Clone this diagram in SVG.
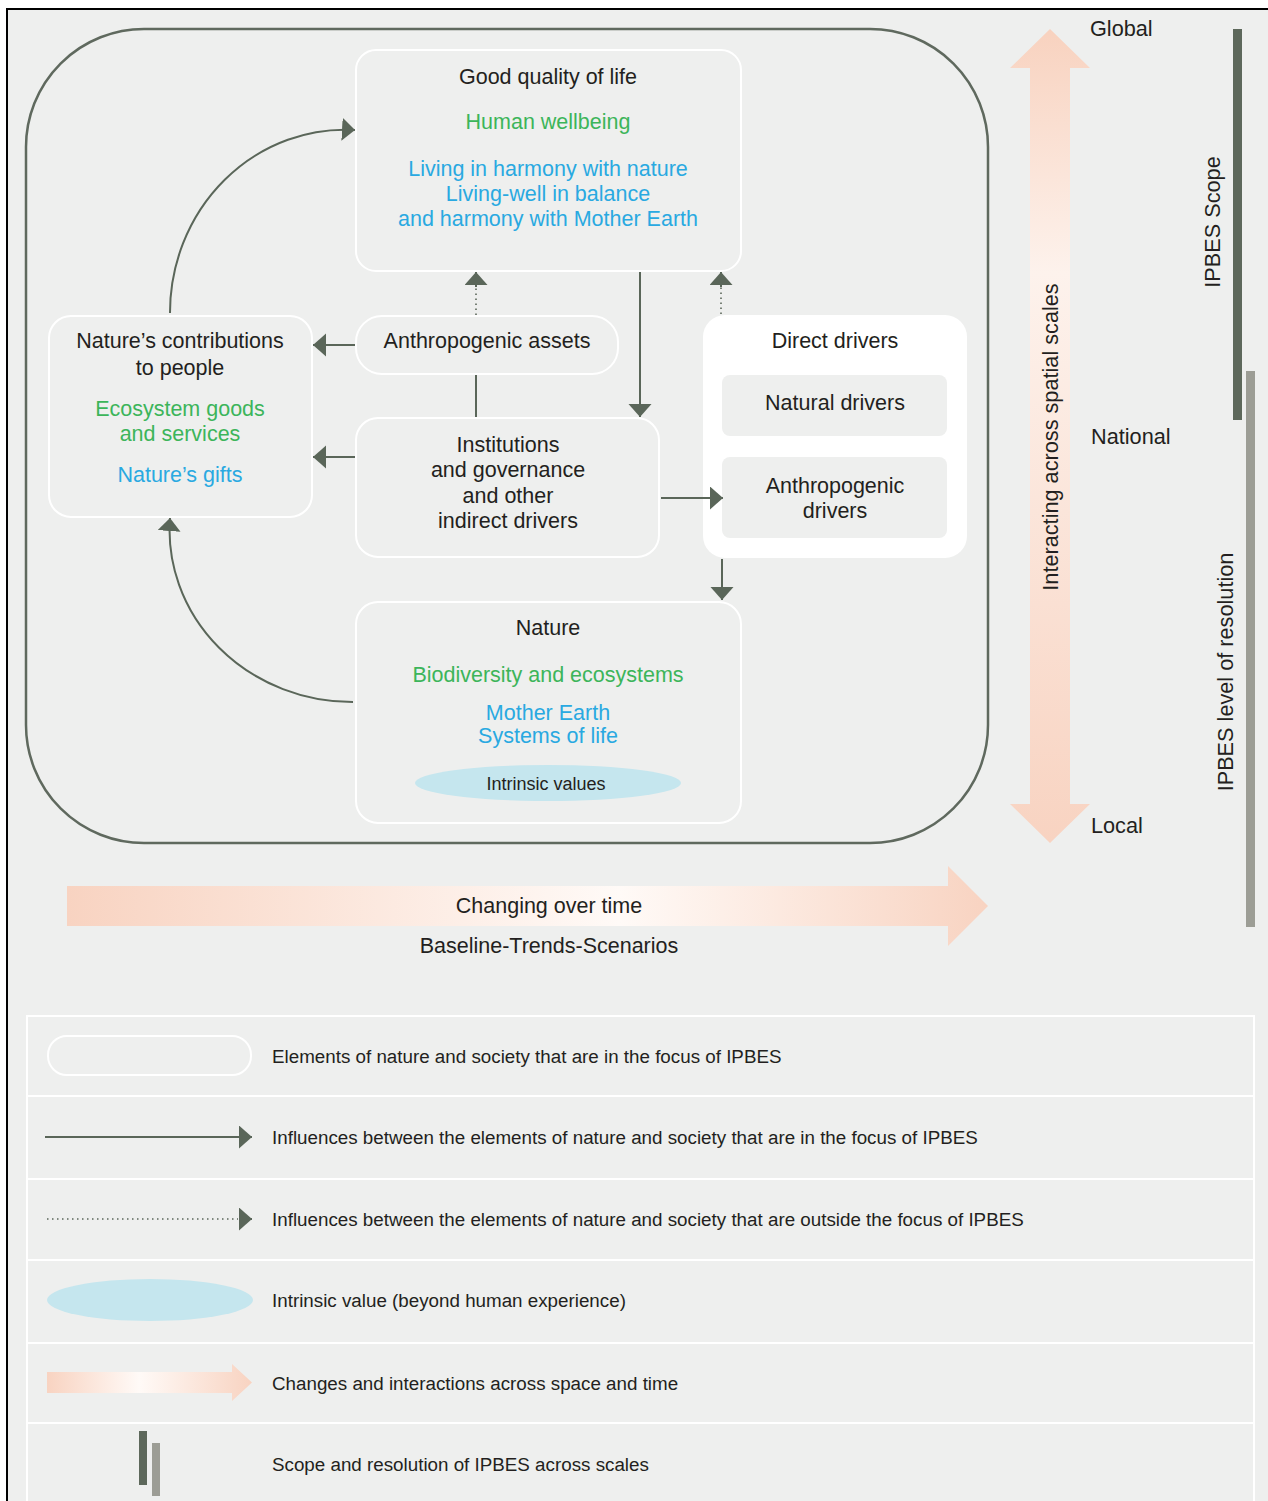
<svg xmlns="http://www.w3.org/2000/svg" width="1268" height="1501" viewBox="0 0 1268 1501">
<defs>
<style>
.t{font-family:"Liberation Sans",Arial,sans-serif;font-size:21.5px;fill:#231f20;text-anchor:middle;dominant-baseline:central}
.g{fill:#3cb55a}
.b{fill:#29a9e1}
.lg{font-family:"Liberation Sans",Arial,sans-serif;font-size:18.8px;fill:#231f20;dominant-baseline:central}
.side{font-family:"Liberation Sans",Arial,sans-serif;font-size:21.7px;fill:#231f20;dominant-baseline:central}
.node{fill:#eeefee;stroke:#ffffff;stroke-width:2}
.con{fill:none;stroke:#5a6659;stroke-width:2}
.dot{fill:none;stroke:#5a6659;stroke-width:1.6;stroke-dasharray:1.5 3.5}
.sep{stroke:#ffffff;stroke-width:2}
</style>
<marker id="ah" markerUnits="userSpaceOnUse" markerWidth="14" markerHeight="24" refX="13" refY="11.5" orient="auto">
<path d="M0,0 L13,11.5 L0,23 z" fill="#5a6659"/>
</marker>
<linearGradient id="gv" x1="0" y1="29" x2="0" y2="843" gradientUnits="userSpaceOnUse">
<stop offset="0" stop-color="#f8d2bf"/>
<stop offset="0.3" stop-color="#fdf2ec"/>
<stop offset="1" stop-color="#f8d3c1"/>
</linearGradient>
<linearGradient id="gh" x1="67" y1="0" x2="988" y2="0" gradientUnits="userSpaceOnUse">
<stop offset="0" stop-color="#f8d3c1"/>
<stop offset="0.6" stop-color="#fffaf7"/>
<stop offset="1" stop-color="#f8d3c1"/>
</linearGradient>
<linearGradient id="gl" x1="47" y1="0" x2="252" y2="0" gradientUnits="userSpaceOnUse">
<stop offset="0" stop-color="#f8d3c1"/>
<stop offset="0.45" stop-color="#fffaf7"/>
<stop offset="1" stop-color="#f8d3c1"/>
</linearGradient>
</defs>

<rect x="0" y="0" width="1268" height="1501" fill="#ffffff"/>
<rect x="7" y="9" width="1275" height="1500" fill="#eeefee" stroke="#000000" stroke-width="2"/>

<g id="frame">
<rect x="26" y="29" width="962" height="814" rx="118" ry="118" fill="none" stroke="#5f695e" stroke-width="2.5"/>
</g>

<g id="scale-arrows">
<path d="M1050,29 L1090,68 L1070,68 L1070,804 L1090,804 L1050,843 L1010,804 L1030,804 L1030,68 L1010,68 z" fill="url(#gv)"/>
<text class="side" transform="translate(1050,437) rotate(-90)" text-anchor="middle">Interacting across spatial scales</text>
<text class="side" x="1090" y="28">Global</text>
<text class="side" x="1091" y="436">National</text>
<text class="side" x="1091" y="825">Local</text>
<path d="M67,886 L948,886 L948,866 L988,906 L948,946 L948,926 L67,926 z" fill="url(#gh)"/>
<text class="t" x="549" y="906">Changing over time</text>
<text class="t" x="549" y="946">Baseline-Trends-Scenarios</text>
</g>

<g id="ipbes-bars">
<rect x="1233" y="29" width="9" height="391" fill="#5d685b"/>
<text class="side" transform="translate(1212,222) rotate(-90)" text-anchor="middle">IPBES Scope</text>
<rect x="1246" y="371" width="9" height="556" fill="#9c9d95"/>
<text class="side" transform="translate(1225,672) rotate(-90)" text-anchor="middle">IPBES level of resolution</text>
</g>

<g id="node-quality">
<rect class="node" x="356" y="50" width="385" height="221" rx="20"/>
<text class="t" x="548" y="77">Good quality of life</text>
<text class="t g" x="548" y="122">Human wellbeing</text>
<text class="t b" x="548" y="169">Living in harmony with nature</text>
<text class="t b" x="548" y="194">Living-well in balance</text>
<text class="t b" x="548" y="219">and harmony with Mother Earth</text>
</g>

<g id="node-assets">
<rect class="node" x="356" y="316" width="262" height="58" rx="26"/>
<text class="t" x="487" y="341">Anthropogenic assets</text>
</g>

<g id="node-institutions">
<rect class="node" x="356" y="418" width="303" height="139" rx="22"/>
<text class="t" x="508" y="445">Institutions</text>
<text class="t" x="508" y="470">and governance</text>
<text class="t" x="508" y="496">and other</text>
<text class="t" x="508" y="521">indirect drivers</text>
</g>

<g id="node-ncp">
<rect class="node" x="49" y="316" width="263" height="201" rx="22"/>
<text class="t" x="180" y="341">Nature’s contributions</text>
<text class="t" x="180" y="368">to people</text>
<text class="t g" x="180" y="409">Ecosystem goods</text>
<text class="t g" x="180" y="434">and services</text>
<text class="t b" x="180" y="475">Nature’s gifts</text>
</g>

<g id="node-direct-drivers">
<rect x="703" y="315" width="264" height="243" rx="22" fill="#ffffff"/>
<text class="t" x="835" y="341">Direct drivers</text>
<rect x="722" y="375" width="225" height="61" rx="8" fill="#eeefee"/>
<text class="t" x="835" y="403">Natural drivers</text>
<rect x="722" y="457" width="225" height="81" rx="8" fill="#eeefee"/>
<text class="t" x="835" y="486">Anthropogenic</text>
<text class="t" x="835" y="511">drivers</text>
</g>

<g id="node-nature">
<rect class="node" x="356" y="602" width="385" height="221" rx="22"/>
<text class="t" x="548" y="628">Nature</text>
<text class="t g" x="548" y="675">Biodiversity and ecosystems</text>
<text class="t b" x="548" y="713">Mother Earth</text>
<text class="t b" x="548" y="736">Systems of life</text>
<ellipse cx="548" cy="783" rx="133" ry="18" fill="#c5e6ee"/>
<text class="t" x="546" y="784" style="font-size:18px">Intrinsic values</text>
</g>

<g id="connectors">
<path class="con" d="M170,313 A175,183 0 0 1 355,130" marker-end="url(#ah)"/>
<path class="con" d="M353,702 A183,172 0 0 1 170,518" marker-end="url(#ah)"/>
<path class="con" d="M355,345 L313,345" marker-end="url(#ah)"/>
<path class="con" d="M355,457 L313,457" marker-end="url(#ah)"/>
<path class="con" d="M476,375 L476,417"/>
<path class="dot" d="M476,315 L476,287"/>
<path class="con" d="M476,287 L476,272" marker-end="url(#ah)" stroke-width="0.1"/>
<path class="dot" d="M721,314 L721,287"/>
<path class="con" d="M721,287 L721,272" marker-end="url(#ah)" stroke-width="0.1"/>
<path class="con" d="M640,272 L640,417" marker-end="url(#ah)"/>
<path class="con" d="M661,498 L723,498" marker-end="url(#ah)"/>
<path class="con" d="M722,559 L722,600" marker-end="url(#ah)"/>
</g>

<g id="legend">
<rect x="27" y="1016" width="1227" height="500" fill="none" stroke="#ffffff" stroke-width="2"/>
<line class="sep" x1="27" y1="1096" x2="1254" y2="1096"/>
<line class="sep" x1="27" y1="1179" x2="1254" y2="1179"/>
<line class="sep" x1="27" y1="1260" x2="1254" y2="1260"/>
<line class="sep" x1="27" y1="1343" x2="1254" y2="1343"/>
<line class="sep" x1="27" y1="1423" x2="1254" y2="1423"/>
<rect class="node" x="48" y="1036" width="203" height="39" rx="19"/>
<text class="lg" x="272" y="1056">Elements of nature and society that are in the focus of IPBES</text>
<path class="con" d="M45,1137 L252,1137" marker-end="url(#ah)"/>
<text class="lg" x="272" y="1137">Influences between the elements of nature and society that are in the focus of IPBES</text>
<path class="dot" d="M47,1219 L238,1219"/>
<path class="con" d="M240,1219 L252,1219" marker-end="url(#ah)" stroke-width="0.1"/>
<text class="lg" x="272" y="1219">Influences between the elements of nature and society that are outside the focus of IPBES</text>
<ellipse cx="150" cy="1300" rx="103" ry="21" fill="#c5e6ee"/>
<text class="lg" x="272" y="1300">Intrinsic value (beyond human experience)</text>
<path d="M47,1372 L232,1372 L232,1364 L252,1382.5 L232,1401 L232,1393 L47,1393 z" fill="url(#gl)"/>
<text class="lg" x="272" y="1383">Changes and interactions across space and time</text>
<rect x="139" y="1431" width="8" height="54" fill="#5d685b"/>
<rect x="152" y="1443" width="8" height="53" fill="#9c9d95"/>
<text class="lg" x="272" y="1464">Scope and resolution of IPBES across scales</text>
</g>
</svg>
